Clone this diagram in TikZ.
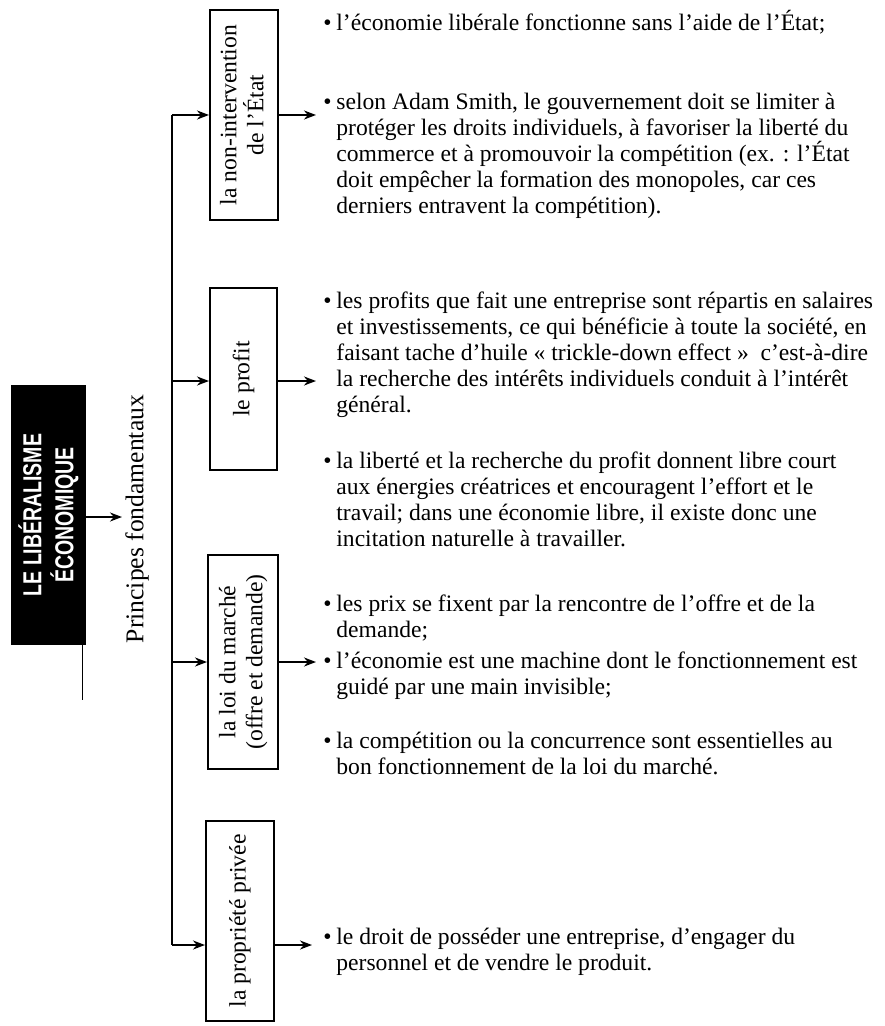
\documentclass[tikz,border=0pt]{standalone}
\usepackage{fontspec}
\setmainfont{Liberation Serif}
\newfontfamily\headfont{Liberation Sans}
\usetikzlibrary{arrows.meta}
\newcommand{\itemline}[1]{\hbox{\makebox[6.5pt][l]{•}#1}}
\newcommand{\contline}[1]{\hbox{\hspace{6.5pt}#1}}
\newcommand{\para}[1]{\vtop{\baselineskip=13pt #1}}
\newcommand{\twolines}[2]{\vbox{\baselineskip=14.5pt\hbox to 0pt{\hss#1\hss}\hbox to 0pt{\hss#2\hss}}}
\begin{document}
\begin{tikzpicture}[x=0.5pt,y=-0.5pt,
  conn/.style={line width=1.2pt},
  arr/.style={line width=1.2pt,-{Stealth[length=6pt,width=4.5pt]}},
  box/.style={draw,line width=1pt,inner sep=0pt,align=center,font=\fontsize{11.8}{14.5}\selectfont},
  body/.style={anchor=base west,inner sep=0pt,font=\fontsize{11.8}{13}\selectfont},
  ]
\useasboundingbox (0,0) rectangle (884,1026);

% title box
\node[fill=black,minimum width=37.5pt,minimum height=130pt,inner sep=0pt] (title) at (48.5,515) {};
\node[rotate=90,text=white,align=center,inner sep=0pt,font=\headfont\bfseries\fontsize{13}{16}\selectfont] (titletext) at (title.center)
  {\scalebox{0.75}[1]{LE LIBÉRALISME}\\\scalebox{0.75}[1]{ÉCONOMIQUE}};
\coordinate (tarr) at (122,517);
\draw[arr] (title.east |- tarr) -- (tarr);
\coordinate (tl1) at (82,645);
\coordinate (tl2) at (82,700);
\draw[line width=0.4pt] (tl1) -- (tl2);

\node[rotate=90,inner sep=0pt,font=\fontsize{12.8}{15}\selectfont] (princ) at (137,519) {Principes fondamentaux};

% boxes
\node[box,minimum width=34pt,minimum height=105pt] (b1) at (244,115) {\rotatebox{90}{\begin{tabular}{@{}c@{}}la non-intervention\\[-1pt]de l'État\end{tabular}}};
\node[box,minimum width=33.5pt,minimum height=91pt] (b2) at (243.5,379) {\rotatebox{90}{le profit}};
\node[box,minimum width=35pt,minimum height=107pt] (b3) at (243,662) {\rotatebox{90}{\begin{tabular}{@{}c@{}}la loi du marché\\[-1pt](offre et demande)\end{tabular}}};
\node[box,minimum width=34pt,minimum height=100pt] (b4) at (240,921) {\rotatebox{90}{la propriété privée}};

% trunk
\coordinate (v1) at (172,115);
\coordinate (v2) at (172,381);
\coordinate (v3) at (172,662);
\coordinate (v4) at (172,945);
\draw[conn] (v1) -- (v4);
\draw[arr] (v1) -- (v1 -| b1.west);
\draw[arr] (v2) -- (v2 -| b2.west);
\draw[arr] (v3) -- (v3 -| b3.west);
\draw[arr] (v4) -- (v4 -| b4.west);

% outputs
\coordinate (o1) at (316,115);
\coordinate (o2) at (316,381);
\coordinate (o3) at (316,662);
\coordinate (o4) at (312,945);
\draw[arr] (o1 -| b1.east) -- (o1);
\draw[arr] (o2 -| b2.east) -- (o2);
\draw[arr] (o3 -| b3.east) -- (o3);
\draw[arr] (o4 -| b4.east) -- (o4);

% texts
\node[body] (p1) at (323,31) {\para{\itemline{l'économie libérale fonctionne sans l'aide de l'État;}}};
\node[body] (p2) at (323,110) {\para{%
 \itemline{selon Adam Smith, le gouvernement doit se limiter à}
 \contline{protéger les droits individuels, à favoriser la liberté du}
 \contline{commerce et à promouvoir la compétition (ex. : l'État}
 \contline{doit empêcher la formation des monopoles, car ces}
 \contline{derniers entravent la compétition).}}};
\node[body] (p3) at (323,308) {\para{%
 \itemline{les profits que fait une entreprise sont répartis en salaires}
 \contline{et investissements, ce qui bénéficie à toute la société, en}
 \contline{faisant tache d'huile « trickle-down effect »~ c'est-à-dire}
 \contline{la recherche des intérêts individuels conduit à l'intérêt}
 \contline{général.}}};
\node[body] (p4) at (323,468) {\para{%
 \itemline{la liberté et la recherche du profit donnent libre court}
 \contline{aux énergies créatrices et encouragent l'effort et le}
 \contline{travail; dans une économie libre, il existe donc une}
 \contline{incitation naturelle à travailler.}}};
\node[body] (p5) at (323,611) {\para{%
 \itemline{les prix se fixent par la rencontre de l'offre et de la}
 \contline{demande;}}};
\node[body] (p6) at (323,668) {\para{%
 \itemline{l'économie est une machine dont le fonctionnement est}
 \contline{guidé par une main invisible;}}};
\node[body] (p7) at (323,748) {\para{%
 \itemline{la compétition ou la concurrence sont essentielles au}
 \contline{bon fonctionnement de la loi du marché.}}};
\node[body] (p8) at (323,944) {\para{%
 \itemline{le droit de posséder une entreprise, d'engager du}
 \contline{personnel et de vendre le produit.}}};
\end{tikzpicture}
\end{document}
